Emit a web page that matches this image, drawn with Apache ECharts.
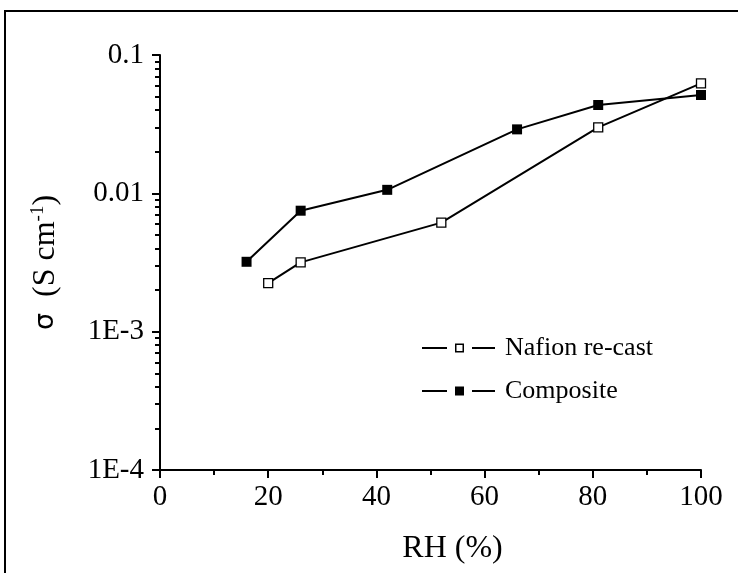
<!DOCTYPE html>
<html>
<head>
<meta charset="utf-8">
<script src="https://cdn.jsdelivr.net/npm/echarts@6/dist/echarts.min.js"></script>
<style>
  html, body { margin: 0; padding: 0; background: #fff; }
  #chart { width: 738px; height: 573px; }
</style>
</head>
<body>
<div id="chart"></div>
<script>
// 数据
var rhNafion = [20, 26, 52, 81, 100];
var sigmaNafion = [0.00224, 0.00317, 0.00614, 0.0300, 0.0624];
var rhComposite = [16, 26, 42, 66, 81, 100];
var sigmaComposite = [0.0032, 0.00749, 0.0106, 0.0290, 0.0435, 0.0514];

var seriesNames = ['Nafion re-cast', 'Composite'];
var yTickValues = [0.0001, 0.001, 0.01, 0.1];
var yTickLabels = ['1E-4', '1E-3', '0.01', '0.1'];
var yMinorValues = [];
[0.0001, 0.001, 0.01].forEach(function (d) {
    for (var k = 2; k <= 9; k++) yMinorValues.push(+(d * k).toPrecision(3));
});

var font = 'Liberation Serif';

function pairs(xs, ys) {
    return xs.map(function (x, i) { return [x, ys[i]]; });
}

// 图例图标：线 - 方块 - 线
var legendOpen = 'path://M0,3.5L25,3.5L25,5.5L0,5.5Z M33,0L42,0L42,9L33,9Z M34.5,1.5L34.5,7.5L40.5,7.5L40.5,1.5Z M50,3.5L73,3.5L73,5.5L50,5.5Z';
var legendFilled = 'path://M0,3.5L25,3.5L25,5.5L0,5.5Z M33,0L42,0L42,9L33,9Z M50,3.5L73,3.5L73,5.5L50,5.5Z';

var myChart = echarts.init(document.getElementById('chart'));

var option = {
    animation: false,
    backgroundColor: '#fff',
    graphic: [{
        type: 'rect',
        shape: { x: 5, y: 11, width: 760, height: 620 },
        style: { fill: 'none', stroke: '#000', lineWidth: 2 },
        silent: true
    }],
    grid: {
        left: 160, right: 37, top: 55, bottom: 103,
        outerBoundsMode: 'none'
    },
    legend: {
        orient: 'vertical',
        left: 422,
        top: 335,
        padding: 0,
        itemWidth: 73,
        itemHeight: 9,
        itemGap: 17,
        textStyle: { fontFamily: font, fontSize: 26, color: '#000', padding: [0, 0, 0, 5] },
        data: [
            { name: seriesNames[0], icon: legendOpen, itemStyle: { color: '#000', borderWidth: 0 } },
            { name: seriesNames[1], icon: legendFilled, itemStyle: { color: '#000', borderWidth: 0 } }
        ]
    },
    xAxis: {
        type: 'value',
        min: 0, max: 100, interval: 20,
        name: 'RH (%)',
        nameLocation: 'middle',
        nameGap: 63,
        nameTextStyle: { fontFamily: font, fontSize: 32, color: '#000', padding: [0, 0, 0, 44] },
        axisLine: { lineStyle: { color: '#000', width: 2 } },
        axisTick: { show: true, inside: false, length: 8, lineStyle: { color: '#000', width: 2 } },
        minorTick: { show: true, splitNumber: 2, length: 5, lineStyle: { color: '#000', width: 2 } },
        axisLabel: { fontFamily: font, fontSize: 29, color: '#000', margin: 13 },
        splitLine: { show: false },
        minorSplitLine: { show: false }
    },
    yAxis: [{
        type: 'log',
        logBase: 10,
        min: 0.0001, max: 0.1,
        position: 'left',
        name: '{s|σ}  (S cm{sup|-1})',
        nameLocation: 'middle',
        nameRotate: 90,
        nameGap: 98,
        nameTextStyle: {
            fontFamily: font, fontSize: 32, color: '#000',
            rich: {
                s: { fontFamily: 'DejaVu Sans', fontSize: 27, color: '#000' },
                sup: { fontFamily: font, fontSize: 19, color: '#000', verticalAlign: 'top', padding: [0, 0, 14, 0] }
            }
        },
        axisLine: { show: true, lineStyle: { color: '#000', width: 2 } },
        axisTick: { show: true, inside: false, length: 8, customValues: yTickValues, lineStyle: { color: '#000', width: 2 } },
        axisLabel: {
            fontFamily: font, fontSize: 29, color: '#000', margin: 16,
            customValues: yTickValues,
            formatter: function (v) {
                var e = Math.round(Math.log10(v));
                return yTickLabels[yTickValues.findIndex(function (t) { return Math.round(Math.log10(t)) === e; })];
            }
        },
        splitLine: { show: false }
    }, {
        // 次刻度
        type: 'log',
        logBase: 10,
        min: 0.0001, max: 0.1,
        position: 'left',
        offset: 0,
        axisLine: { show: false },
        axisTick: { show: true, inside: false, length: 5, customValues: yMinorValues, lineStyle: { color: '#000', width: 2 } },
        axisLabel: { show: false },
        splitLine: { show: false }
    }],
    series: [{
        name: seriesNames[0],
        type: 'line',
        data: pairs(rhNafion, sigmaNafion),
        symbol: 'rect',
        symbolSize: 9,
        lineStyle: { color: '#000', width: 2 },
        itemStyle: { color: '#fff', borderColor: '#000', borderWidth: 1.3 },
        z: 3
    }, {
        name: seriesNames[1],
        type: 'line',
        data: pairs(rhComposite, sigmaComposite),
        symbol: 'rect',
        symbolSize: 10,
        lineStyle: { color: '#000', width: 2 },
        itemStyle: { color: '#000', borderColor: '#000', borderWidth: 0 },
        z: 2
    }]
};

myChart.setOption(option);
window.addEventListener('resize', function () {
    myChart.resize();
});
</script>
</body>
</html>
